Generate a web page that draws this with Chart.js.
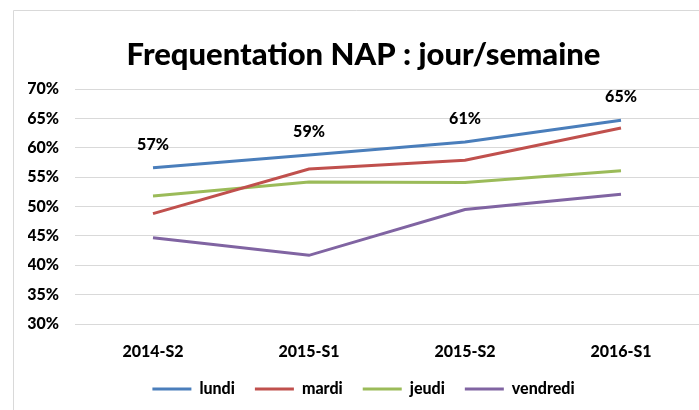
<!DOCTYPE html>
<html>
<head>
<meta charset="utf-8">
<script src="https://cdn.jsdelivr.net/npm/chart.js@4.4.1/dist/chart.umd.min.js"></script>
<style>
  html, body { margin: 0; padding: 0; background: #ffffff; }
  #wrap { position: relative; width: 699px; height: 410px; }
</style>
</head>
<body>
<div id="wrap"><canvas id="c" width="699" height="410"></canvas></div>
<script>
const categories = ["2014-S2", "2015-S1", "2015-S2", "2016-S1"];
const lundi    = [56.6, 58.8, 61.0, 64.7];
const mardi    = [48.8, 56.4, 57.9, 63.4];
const jeudi    = [51.8, 54.2, 54.1, 56.1];
const vendredi = [44.7, 41.7, 49.5, 52.1];
const yTicks = [30, 35, 40, 45, 50, 55, 60, 65, 70];

const FONT = "Lato, 'Open Sans', sans-serif";
const W = 900;

const borderPlugin = {
  id: 'frame',
  beforeDraw(chart) {
    const ctx = chart.ctx;
    ctx.save();
    ctx.fillStyle = '#ffffff';
    ctx.fillRect(0, 0, chart.width, chart.height);
    ctx.strokeStyle = '#d9d9d9';
    ctx.lineWidth = 1;
    ctx.beginPath();
    ctx.moveTo(13.5, 420);
    ctx.lineTo(13.5, 10.5);
    ctx.lineTo(720, 10.5);
    ctx.stroke();
    ctx.restore();
  }
};

const labelPlugin = {
  id: 'pointLabels',
  afterDatasetsDraw(chart) {
    const ctx = chart.ctx;
    const meta = chart.getDatasetMeta(0);
    const data = chart.data.datasets[0].data;
    ctx.save();
    ctx.font = W + " 16px " + FONT;
    ctx.fillStyle = '#000000';
    ctx.textAlign = 'center';
    ctx.textBaseline = 'middle';
    meta.data.forEach((pt, i) => {
      ctx.fillText(Math.round(data[i]) + '%', pt.x, pt.y - 23);
    });
    ctx.restore();
  }
};

new Chart(document.getElementById('c'), {
  type: 'line',
  data: {
    labels: categories,
    datasets: [
      { label: 'lundi', data: lundi, borderColor: '#4A7EBB', backgroundColor: '#4A7EBB' },
      { label: 'mardi', data: mardi, borderColor: '#C0504D', backgroundColor: '#C0504D' },
      { label: 'jeudi', data: jeudi, borderColor: '#9BBB59', backgroundColor: '#9BBB59' },
      { label: 'vendredi', data: vendredi, borderColor: '#8064A2', backgroundColor: '#8064A2' }
    ].map(d => Object.assign(d, { borderWidth: 3, pointRadius: 0, pointHoverRadius: 0, tension: 0, fill: false, pointStyle: 'line' }))
  },
  options: {
    responsive: false,
    animation: false,
    events: [],
    layout: { padding: { left: 28, right: 0, top: 0, bottom: 3 } },
    plugins: {
      title: {
        display: true,
        text: 'Frequentation NAP : jour/semaine',
        color: '#000000',
        font: { family: FONT, size: 31, weight: W },
        padding: { top: 36, bottom: 16 }
      },
      legend: {
        position: 'bottom',
        labels: {
          usePointStyle: true,
          pointStyle: 'line',
          pointStyleWidth: 39,
          boxHeight: 3,
          color: '#000000',
          font: { family: FONT, size: 16, weight: W },
          padding: 20
        }
      },
      tooltip: { enabled: false }
    },
    scales: {
      x: {
        offset: true,
        afterFit(scale) { scale.height = 37; },
        grid: { display: false, drawTicks: false },
        border: { display: false },
        ticks: { color: '#000000', font: { family: FONT, size: 16, weight: W, lineHeight: 1.0 }, padding: 20, maxRotation: 0 }
      },
      y: {
        min: 30,
        max: 70,
        afterFit(scale) { scale.width = 47; },
        afterBuildTicks(scale) { scale.ticks = yTicks.map(v => ({ value: v })); },
        grid: { color: '#d9d9d9', lineWidth: 1, drawTicks: false },
        border: { display: false },
        ticks: {
          color: '#000000',
          font: { family: FONT, size: 16, weight: W },
          padding: 16,
          callback: v => v + '%'
        }
      }
    }
  },
  plugins: [borderPlugin, labelPlugin]
});
</script>
</body>
</html>
